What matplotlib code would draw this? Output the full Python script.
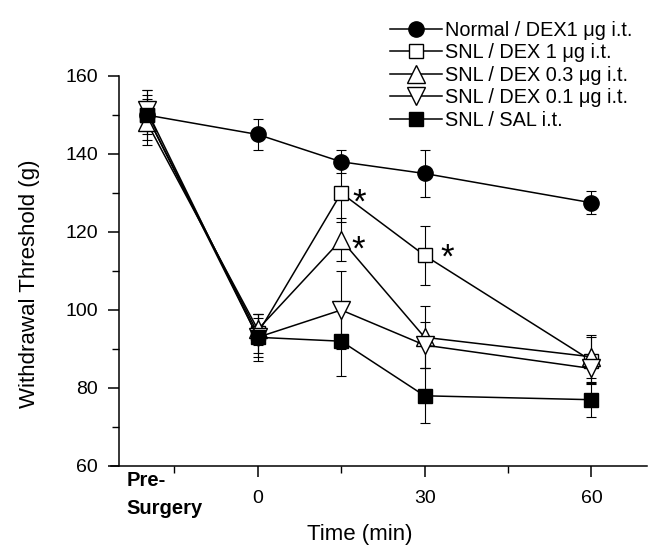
import matplotlib
matplotlib.use('Agg')
import matplotlib.pyplot as plt
from matplotlib.ticker import FixedLocator

plt.rcParams['font.family'] = ['Liberation Sans', 'DejaVu Sans']

# time points (Pre-Surgery drawn at -20)
times = [-20, 0, 15, 30, 60]

normal_dex1 = [150, 145, 138, 135, 127.5]
normal_dex1_err = [3, 4, 3, 6, 3]
snl_dex1 = [150, 94, 130, 114, 87]
snl_dex1_err = [5, 5, 7.5, 7.5, 6]
snl_dex03 = [148.2, 95, 118, 93, 88]
snl_dex03_err = [5.8, 4, 5.5, 8, 5.5]
snl_dex01 = [151.3, 93, 100, 91, 85]
snl_dex01_err = [5, 5, 10, 6, 3.5]
snl_sal = [150, 93, 92, 78, 77]
snl_sal_err = [6.4, 6, 9, 7, 4.4]

labels = ['Normal / DEX1 \u03bcg i.t.', 'SNL / DEX 1 \u03bcg i.t.',
          'SNL / DEX 0.3 \u03bcg i.t.', 'SNL / DEX 0.1 \u03bcg i.t.',
          'SNL / SAL i.t.']

# significance stars (centre x, centre y)
star_x = [18.3, 18.0, 34.0]
star_y = [130.1, 118.0, 115.9]

fig = plt.figure(figsize=(6.48, 5.47), dpi=100)
ax = fig.add_axes([110.5 / 648, 81 / 547, (647 - 110.5) / 648, 390 / 547])

series = [
    (normal_dex1, normal_dex1_err, 'o', 'black', 11),
    (snl_dex1, snl_dex1_err, 's', 'white', 10),
    (snl_dex03, snl_dex03_err, '^', 'white', 12.5),
    (snl_dex01, snl_dex01_err, 'v', 'white', 12.5),
    (snl_sal, snl_sal_err, 's', 'black', 10),
]

for (vals, errs, mk, fc, ms), lab in zip(series, labels):
    ax.errorbar(times, vals, yerr=errs, fmt='none', ecolor='black',
                elinewidth=0.8, capsize=3.5, capthick=0.8, zorder=2)
    ax.plot(times, vals, color='black', lw=1.1, marker=mk, ms=ms,
            mfc=fc, mec='black', mew=1.0, label=lab, zorder=3)

# asterisk glyph centre sits ~0.57 em above the baseline
star_fs = 25
for sx, sy in zip(star_x, star_y):
    ax.annotate('*', (sx, sy), xytext=(0, -0.57 * star_fs),
                textcoords='offset points', fontsize=star_fs,
                ha='center', va='baseline')

ax.set_xlim(-26.5, 70)
ax.set_ylim(60, 160)
ax.spines['top'].set_visible(False)
ax.spines['right'].set_visible(False)
ax.spines['left'].set_position(('data', -25))
ax.spines['left'].set_linewidth(1.1)
ax.spines['bottom'].set_linewidth(1.1)

ax.set_yticks([60, 80, 100, 120, 140, 160])
ax.yaxis.set_minor_locator(FixedLocator([70, 90, 110, 130, 150]))
ax.set_xticks([0, 30, 60])
ax.xaxis.set_minor_locator(FixedLocator([-15, 15, 45]))
ax.tick_params(axis='both', which='major', direction='out', length=8,
               width=1.1, labelsize=14)
ax.tick_params(axis='both', which='minor', direction='out', length=5,
               width=1.0)
ax.tick_params(axis='x', which='major', pad=9)
ax.tick_params(axis='y', which='major', pad=7)

ax.text(-23.6, -0.012, 'Pre-\nSurgery', transform=ax.get_xaxis_transform(),
        fontsize=14.5, fontweight='bold', ha='left', va='top',
        linespacing=1.6)

ax.set_xlabel('Time (min)', fontsize=16)
ax.xaxis.set_label_coords(0.465, -0.149)
ax.set_ylabel('Withdrawal Threshold (g)', fontsize=16)
ax.yaxis.set_label_coords(-0.132, 0.467)

ax.legend(loc='upper right', bbox_to_anchor=(632 / 648, 1 - 21 / 547),
          bbox_transform=fig.transFigure, frameon=False, fontsize=14.3,
          handlelength=2.6, handletextpad=0.15, labelspacing=0.17,
          borderpad=0, borderaxespad=0)

fig.savefig('out.png', dpi=100)
